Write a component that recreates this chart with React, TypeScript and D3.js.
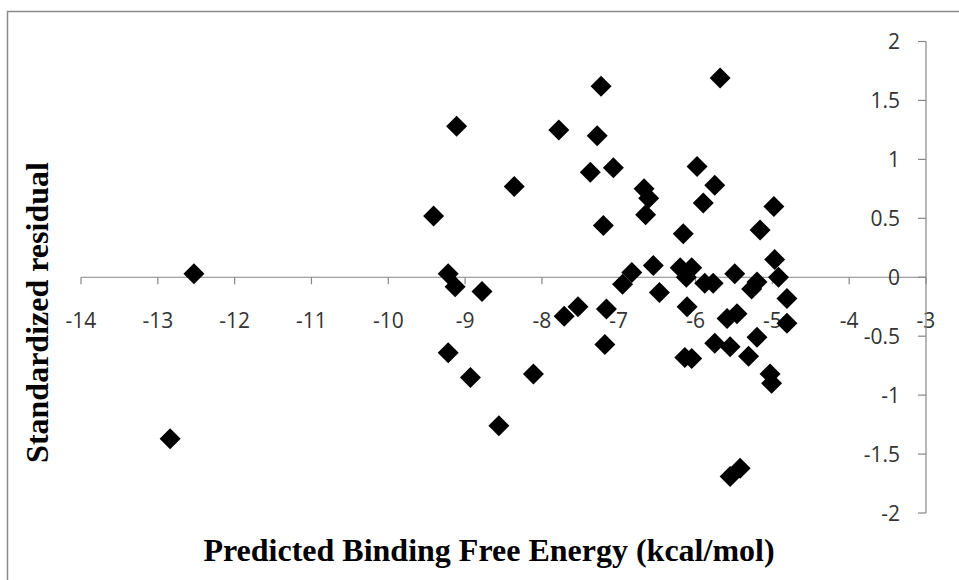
import React from "react";
import * as d3 from "d3";

const WIDTH = 959;
const HEIGHT = 580;

// predicted binding free energy (kcal/mol)
const energy = [
  -12.53, -12.84, -9.41, -9.11, -9.22, -9.13, -8.78, -9.22, -8.93, -8.56,
  -8.36, -8.11, -7.78, -7.71, -7.53, -7.37, -7.28, -7.23, -7.2, -7.18,
  -7.16, -7.07, -6.95, -6.83, -6.67, -6.61, -6.65, -6.55, -6.47, -6.16,
  -6.2, -6.05, -6.12, -6.11, -6.14, -6.05, -5.98, -5.9, -5.75, -5.68,
  -5.88, -5.77, -5.75, -5.59, -5.55, -5.55, -5.42, -5.49, -5.46, -5.31,
  -5.27, -5.2, -5.2, -5.16, -4.98, -4.97, -4.92, -5.03, -5.01, -4.81,
  -4.81
];

// standardized residual
const residual = [
  0.03, -1.37, 0.52, 1.28, 0.03, -0.08, -0.12, -0.64, -0.85, -1.26,
  0.77, -0.82, 1.25, -0.33, -0.25, 0.89, 1.2, 1.62, 0.44, -0.57,
  -0.27, 0.93, -0.06, 0.04, 0.75, 0.67, 0.53, 0.1, -0.13, 0.37,
  0.08, 0.08, 0.0, -0.25, -0.68, -0.69, 0.94, 0.63, 0.78, 1.69,
  -0.05, -0.05, -0.56, -0.35, -0.59, -1.69, -1.62, 0.03, -0.31, -0.67,
  -0.1, -0.04, -0.51, 0.4, 0.6, 0.15, 0.0, -0.82, -0.9, -0.18,
  -0.39
];

const xTicks = [-14, -13, -12, -11, -10, -9, -8, -7, -6, -5, -4, -3];
const yTicks = [2, 1.5, 1, 0.5, 0, -0.5, -1, -1.5, -2];

const AXIS = "#868686";
const LABEL_FONT = "'Open Sans', sans-serif";
const TITLE_FONT = "'Liberation Serif', 'Times New Roman', serif";

export default function App() {
  const x = d3.scaleLinear().domain([-14, -3]).range([81, 926]);
  const y = d3.scaleLinear().domain([-2, 2]).range([513, 41.5]);

  const points = energy.map((e, i) => ({ e, r: residual[i] }));
  const s = 10.5;
  const diamond = `M0,${-s}L${s},0L0,${s}L${-s},0Z`;

  return (
    <svg
      width={WIDTH}
      height={HEIGHT}
      style={{ position: "absolute", left: 0, top: 0, background: "#fff" }}
    >
      <rect x={7.5} y={11.5} width={WIDTH + 10} height={HEIGHT + 10} fill="#fff" stroke="#8a8a8a" strokeWidth={1.5} />

      {/* x axis along y = 0 */}
      <line x1={x(-14)} x2={x(-3)} y1={y(0)} y2={y(0)} stroke={AXIS} strokeWidth={1.2} />
      {xTicks.map(t => (
        <g key={"x" + t}>
          <line x1={x(t)} x2={x(t)} y1={y(0)} y2={y(0) + 7} stroke={AXIS} strokeWidth={1.2} />
          <text x={x(t)} y={y(0) + 51} textAnchor="middle" fontFamily={LABEL_FONT} fontSize={21} fill="#333">
            {t}
          </text>
        </g>
      ))}

      {/* y axis at x = -3 */}
      <line x1={x(-3)} x2={x(-3)} y1={y(2)} y2={y(-2)} stroke={AXIS} strokeWidth={1.2} />
      {yTicks.map(t => (
        <g key={"y" + t}>
          <line x1={x(-3) - 8} x2={x(-3)} y1={y(t)} y2={y(t)} stroke={AXIS} strokeWidth={1.2} />
          <text x={900} y={y(t)} dy="0.36em" textAnchor="end" fontFamily={LABEL_FONT} fontSize={21} fill="#333">
            {t}
          </text>
        </g>
      ))}

      {points.map((p, i) => (
        <path key={i} d={diamond} transform={`translate(${x(p.e)},${y(p.r)})`} fill="#000" />
      ))}

      <text x={489} y={561} textAnchor="middle" fontFamily={TITLE_FONT} fontWeight="bold" fontSize={32} fill="#000">
        Predicted Binding Free Energy (kcal/mol)
      </text>
      <text
        transform="translate(48,312.5) rotate(-90)"
        textAnchor="middle"
        fontFamily={TITLE_FONT}
        fontWeight="bold"
        fontSize={32}
        fill="#000"
      >
        Standardized residual
      </text>
    </svg>
  );
}
